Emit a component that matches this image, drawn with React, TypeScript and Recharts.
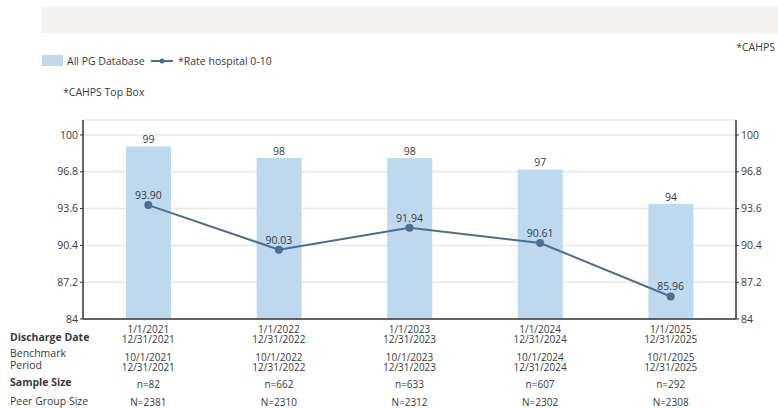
import React from "react";
import {
  ComposedChart,
  Bar,
  Line,
  XAxis,
  YAxis,
  CartesianGrid,
  LabelList,
} from "recharts";

const periods = ["2021", "2022", "2023", "2024", "2025"];
const dischargeStart = ["1/1/2021", "1/1/2022", "1/1/2023", "1/1/2024", "1/1/2025"];
const dischargeEnd = ["12/31/2021", "12/31/2022", "12/31/2023", "12/31/2024", "12/31/2025"];
const benchStart = ["10/1/2021", "10/1/2022", "10/1/2023", "10/1/2024", "10/1/2025"];
const benchEnd = ["12/31/2021", "12/31/2022", "12/31/2023", "12/31/2024", "12/31/2025"];
const sampleSize = ["n=82", "n=662", "n=633", "n=607", "n=292"];
const peerSize = ["N=2381", "N=2310", "N=2312", "N=2302", "N=2308"];
const pgDatabase = [99, 98, 98, 97, 94];
const rateHospital = [93.9, 90.03, 91.94, 90.61, 85.96];
const yTicks = [84, 87.2, 90.4, 93.6, 96.8, 100];

const data = periods.map((p, i) => ({
  period: p,
  pg: pgDatabase[i],
  rate: rateHospital[i],
}));

const FONT = "'Open Sans', sans-serif";
const TEXT = "#3a3a3a";
const BAR = "#bed8ee";
const LINE = "#4c6f91";

// multi-row x tick: discharge date, benchmark period, sample size, peer group size
const PeriodTick = (props: any) => {
  const { x, y, payload } = props;
  const i = payload.index;
  const rows: [string, number][] = [
    [dischargeStart[i], 6],
    [dischargeEnd[i], 16],
    [benchStart[i], 34],
    [benchEnd[i], 44],
    [sampleSize[i], 61],
    [peerSize[i], 79],
  ];
  return (
    <g>
      {rows.map(([t, dy], k) => (
        <text key={k} x={x} y={y + dy} textAnchor="middle" fontSize={10} fill={TEXT} fontFamily={FONT}>
          {t}
        </text>
      ))}
    </g>
  );
};

const rowLabel = (top: number, text: string, bold = false) => (
  <div
    style={{
      position: "absolute",
      left: 10,
      top,
      fontSize: 10.5,
      fontWeight: bold ? 700 : 400,
      color: TEXT,
      lineHeight: "12px",
      whiteSpace: "nowrap",
    }}
  >
    {text}
  </div>
);

const axisTick = { fontSize: 10.5, fill: TEXT, fontFamily: FONT };
const axisStroke = { stroke: "#333", strokeWidth: 1.5 };

export default function App() {
  return (
    <div
      style={{
        position: "fixed",
        left: 0,
        top: 0,
        width: 778,
        height: 408,
        background: "#fff",
        fontFamily: FONT,
      }}
    >
      <div style={{ position: "absolute", left: 42, top: 7, width: 736, height: 26, background: "#f5f1f1" }} />

      {/* legend */}
      <div style={{ position: "absolute", left: 42, top: 55, width: 21, height: 11, background: BAR }} />
      <div style={{ position: "absolute", left: 67, top: 54, fontSize: 10.5, color: TEXT, lineHeight: "14px" }}>
        All PG Database
      </div>
      <svg style={{ position: "absolute", left: 150, top: 55 }} width={24} height={12}>
        <line x1={1} y1={6} x2={23} y2={6} stroke={LINE} strokeWidth={2} />
        <circle cx={12} cy={6} r={2.5} fill={LINE} />
      </svg>
      <div style={{ position: "absolute", left: 178, top: 54, fontSize: 10.5, color: TEXT, lineHeight: "14px" }}>
        *Rate hospital 0-10
      </div>
      <div style={{ position: "absolute", left: 63, top: 85, fontSize: 10.5, color: TEXT, lineHeight: "14px" }}>
        *CAHPS Top Box
      </div>
      <div style={{ position: "absolute", right: 3, top: 40, fontSize: 10.5, color: TEXT, lineHeight: "14px" }}>
        *CAHPS
      </div>

      <ComposedChart
        width={778}
        height={408}
        data={data}
        margin={{ top: 120, right: 2, bottom: 0, left: 43 }}
        style={{ position: "absolute", left: 0, top: 0 }}
      >
        <CartesianGrid yAxisId="left" vertical={false} stroke="#e8e8e8" strokeWidth={1.5} />
        <XAxis
          dataKey="period"
          height={89}
          tick={<PeriodTick />}
          tickLine={false}
          axisLine={axisStroke}
          interval={0}
        />
        <YAxis
          yAxisId="left"
          width={40}
          domain={[84, 101.3]}
          ticks={yTicks}
          tickFormatter={(v: number) => String(v)}
          tick={axisTick}
          tickSize={3}
          tickLine={{ stroke: "#333" }}
          axisLine={axisStroke}
        />
        <YAxis
          yAxisId="right"
          orientation="right"
          width={40}
          domain={[84, 101.3]}
          ticks={yTicks}
          tickFormatter={(v: number) => String(v)}
          tick={axisTick}
          tickSize={3}
          tickLine={{ stroke: "#333" }}
          axisLine={axisStroke}
        />
        <Bar yAxisId="left" dataKey="pg" fill={BAR} barSize={45} isAnimationActive={false}>
          <LabelList dataKey="pg" position="top" offset={3} fontSize={10.5} fill={TEXT} fontFamily={FONT} />
        </Bar>
        {/* mirror scale on the right axis, no visible marks */}
        <Line
          yAxisId="right"
          dataKey="rate"
          stroke="none"
          dot={false}
          activeDot={false}
          legendType="none"
          isAnimationActive={false}
        />
        <Line
          yAxisId="left"
          dataKey="rate"
          stroke={LINE}
          strokeWidth={2}
          dot={{ r: 3, fill: LINE, stroke: LINE }}
          isAnimationActive={false}
        >
          <LabelList
            dataKey="rate"
            position="top"
            offset={6}
            fontSize={10.5}
            fill={TEXT}
            fontFamily={FONT}
            formatter={(v: number) => v.toFixed(2)}
          />
        </Line>
      </ComposedChart>

      {rowLabel(331, "Discharge Date", true)}
      {rowLabel(347, "Benchmark")}
      {rowLabel(359, "Period")}
      {rowLabel(376, "Sample Size", true)}
      {rowLabel(395, "Peer Group Size")}
    </div>
  );
}
